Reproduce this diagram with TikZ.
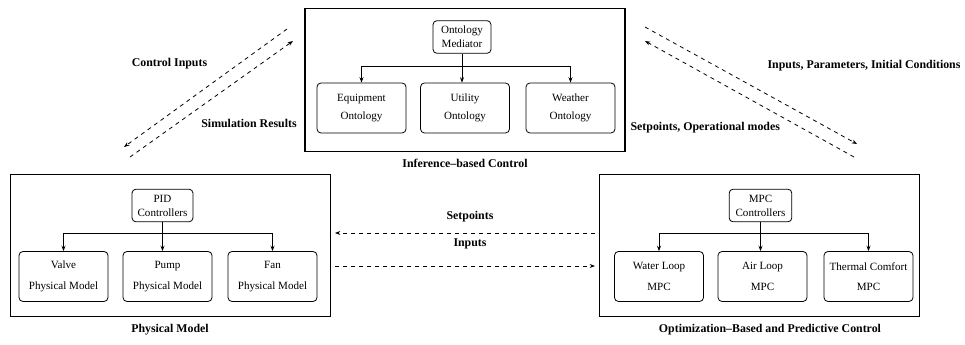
\documentclass[tikz,border=0pt]{standalone}
\usepackage{fontspec}
\setmainfont{Liberation Serif}
\usetikzlibrary{arrows.meta}

\tikzset{
  outerbox/.style={draw, line width=0.8pt, inner sep=0pt, minimum width=240pt, minimum height=107pt},
  unitbox/.style={draw, line width=0.6pt, rounded corners=3pt, align=center, inner sep=1pt,
    minimum width=66.75pt, minimum height=37.5pt, font=\fontsize{8.3}{13}\selectfont},
  tallunit/.style={unitbox, font=\fontsize{8.3}{15.5}\selectfont},
  ctrlbox/.style={draw, line width=0.6pt, rounded corners=3pt, align=center, inner sep=1pt,
    minimum height=24.5pt, font=\fontsize{8.3}{10.5}\selectfont},
  caption/.style={font=\bfseries\fontsize{8.9}{10}\selectfont, inner sep=1pt},
  link/.style={line width=0.6pt, -{Stealth[length=4pt,width=3pt]}},
  flow/.style={line width=0.6pt, dash pattern=on 3pt off 3pt, -{Stealth[length=4pt,width=3pt]}}
}

\begin{document}
\begin{tikzpicture}[x=0.75pt,y=0.75pt,yscale=-1,xscale=1]
\useasboundingbox (0,0) rectangle (965,345);

%Inference-based control block
\node[outerbox] (ibc) at (465,80) {};
\node[ctrlbox, minimum width=43.5pt] (med) at (462,37) {Ontology\\Mediator};
\node[unitbox] (equip) at (361.5,108) {Equipment\\Ontology};
\node[unitbox] (util) at (465,108) {Utility\\Ontology};
\node[unitbox] (weather) at (570.5,108) {Weather\\Ontology};
\coordinate (ibcbus) at (462,66);
\draw[line width=0.6pt] (equip.north |- ibcbus) -- (weather.north |- ibcbus);
\draw[link] (equip.north |- ibcbus) -- (equip.north);
\draw[link] (weather.north |- ibcbus) -- (weather.north);
\draw[link] (med.south) -- (med.south |- util.north);
\node[caption] (ibclabel) at (465,163) {Inference--based Control};

%Physical model block
\node[outerbox] (pm) at (170.5,245.5) {};
\node[ctrlbox, minimum width=45.75pt] (pid) at (162.5,205.5) {PID\\Controllers};
\node[tallunit] (valve) at (63.5,276.5) {Valve\\Physical Model};
\node[tallunit] (pump) at (167.5,276.5) {Pump\\Physical Model};
\node[tallunit] (fan) at (272.5,276.5) {Fan\\Physical Model};
\coordinate (pmbus) at (162.5,233);
\draw[line width=0.6pt] (valve.north |- pmbus) -- (fan.north |- pmbus);
\draw[link] (valve.north |- pmbus) -- (valve.north);
\draw[link] (fan.north |- pmbus) -- (fan.north);
\draw[link] (pid.south) -- (pid.south |- pump.north);
\node[caption] (pmlabel) at (170,330) {Physical Model};

%Optimization-based and predictive control block
\node[outerbox] (opc) at (759.5,245.5) {};
\node[ctrlbox, minimum width=47pt] (mpc) at (760.5,205.5) {MPC\\Controllers};
\node[tallunit] (water) at (659,276.5) {Water Loop\\MPC};
\node[tallunit] (air) at (762.5,276.5) {Air Loop\\MPC};
\node[tallunit] (comfort) at (868.5,276.5) {Thermal Comfort\\MPC};
\coordinate (opcbus) at (760.5,233);
\draw[line width=0.6pt] (water.north |- opcbus) -- (comfort.north |- opcbus);
\draw[link] (water.north |- opcbus) -- (water.north);
\draw[link] (comfort.north |- opcbus) -- (comfort.north);
\draw[link] (mpc.south) -- (mpc.south |- air.north);
\node[caption] (opclabel) at (770,330) {Optimization--Based and Predictive Control};

%Exchanges between blocks
\coordinate (ci1) at (287,29);   \coordinate (ci2) at (124,147);
\coordinate (sr1) at (130,157);  \coordinate (sr2) at (293,41);
\coordinate (ip1) at (645,27);   \coordinate (ip2) at (857,144);
\coordinate (so1) at (854,157);  \coordinate (so2) at (645,41);
\coordinate (sp1) at (595,233);  \coordinate (sp2) at (335,233);
\coordinate (in1) at (335,266);  \coordinate (in2) at (595,266);
\draw[flow] (ci1) -- (ci2);
\draw[flow] (sr1) -- (sr2);
\draw[flow] (ip1) -- (ip2);
\draw[flow] (so1) -- (so2);
\draw[flow] (sp1) -- (sp2);
\draw[flow] (in1) -- (in2);
\node[caption] (cilabel) at (169.5,64) {Control Inputs};
\node[caption] (srlabel) at (249,123) {Simulation Results};
\node[caption, anchor=west] (iplabel) at (766,66) {Inputs, Parameters, Initial Conditions};
\node[caption, anchor=west] (solabel) at (629,128) {Setpoints, Operational modes};
\node[caption] (splabel) at (470,217) {Setpoints};
\node[caption] (inlabel) at (470,244) {Inputs};

\end{tikzpicture}
\end{document}
